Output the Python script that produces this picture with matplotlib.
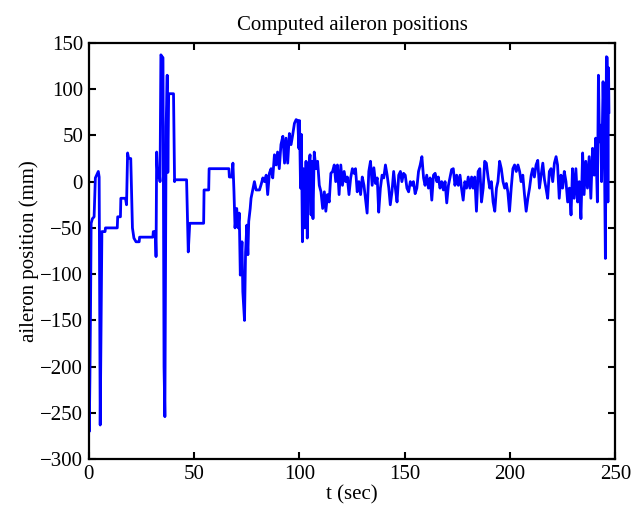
import matplotlib
matplotlib.use("Agg")
import matplotlib.pyplot as plt
import numpy as np

plt.rcParams['font.family'] = ['Liberation Serif', 'DejaVu Serif']

# time (sec) and aileron position (mm)
t = [0.0, 0.3, 0.6, 0.9, 1.2, 1.8, 2.6, 3.2, 3.8, 4.6, 5.0, 5.5, 6.3, 7.8, 8.0,
     13.6, 13.8, 15.1, 15.3, 17.5, 18.0, 18.5, 19.0, 20.0, 20.8, 21.5, 22.5,
     24.0, 24.2, 30.5, 30.7, 31.7, 32.0, 32.3, 32.8, 33.4, 33.9, 34.3, 34.9,
     35.3, 35.8, 36.2, 36.8, 37.3, 37.6, 38.0, 40.3, 40.8, 41.0, 46.5, 47.3,
     48.0, 54.6, 54.8, 57.0, 57.2, 66.6, 66.8, 68.0, 68.5, 69.0, 69.5, 70.3,
     71.0, 71.5, 72.0, 72.8, 73.2, 74.0, 74.5, 75.1, 75.6, 76.0, 76.7, 77.1,
     77.9, 78.7, 79.5, 81.1, 81.9, 82.7, 83.5, 84.3, 85.0, 85.8, 86.6, 87.4,
     88.2, 89.0, 89.7, 90.5, 91.3, 92.2, 93.0, 93.7, 94.5, 95.3, 96.1, 96.9,
     97.7, 98.5, 99.3, 99.8, 100.1, 100.6, 101.0, 101.5, 101.9, 102.6, 103.2,
     103.8, 104.4, 105.1, 105.6, 106.0, 106.5, 107.1, 107.9, 108.7, 109.5,
     110.3, 111.1, 111.9, 112.6, 113.4, 114.2, 115.0, 115.8, 116.6, 117.3,
     118.1, 118.9, 119.7, 120.5, 121.3, 122.1, 122.8, 123.6, 124.4, 125.2,
     126.0, 126.7, 127.5, 128.3, 129.1, 129.9, 130.7, 131.4, 132.2, 133.0,
     133.8, 134.6, 135.4, 136.2, 137.0, 137.7, 138.5, 139.3, 140.1, 140.9,
     141.7, 142.5, 143.2, 144.0, 144.8, 145.6, 146.4, 147.2, 148.0, 148.7,
     149.5, 150.3, 151.1, 151.9, 152.7, 153.5, 154.2, 155.0, 155.8, 156.6,
     157.4, 158.2, 159.0, 159.7, 160.5, 161.3, 162.1, 162.9, 163.7, 164.5,
     165.3, 166.0, 166.8, 167.6, 168.4, 169.2, 170.0, 170.8, 171.5, 172.3,
     173.1, 173.9, 174.7, 175.5, 176.3, 177.0, 177.8, 178.6, 179.4, 180.2,
     181.0, 181.8, 182.5, 183.3, 184.1, 184.9, 185.7, 186.5, 187.3, 188.0,
     188.8, 189.6, 190.4, 191.2, 192.0, 192.8, 193.6, 194.3, 195.1, 195.9,
     196.7, 197.5, 198.3, 199.0, 199.8, 200.6, 201.4, 202.2, 203.0, 203.8,
     204.6, 205.3, 206.1, 206.9, 207.7, 208.5, 209.3, 210.1, 210.8, 211.6,
     212.4, 213.2, 214.0, 214.8, 215.6, 216.4, 217.1, 217.9, 218.7, 219.5,
     220.3, 221.1, 221.9, 222.6, 223.4, 224.2, 225.0, 225.8, 226.6, 227.4,
     228.2, 229.0, 229.7, 230.5, 231.3, 232.1, 232.9, 233.7, 234.5, 235.2,
     236.0, 236.8, 237.6, 238.4, 239.2, 240.0, 240.7, 241.5, 242.0, 242.5,
     243.1, 243.5, 244.2, 244.8, 245.3, 245.8, 246.2, 246.5, 246.8, 247.0]

pos = [-95, -270, -215, -140, -45, -40, -38, 4, 7, 11, 5, -263, -54, -54, -50,
       -50, -38, -38, -18, -18, -25, 31, 25, 25, -50, -61, -65,
       -65, -60, -60, -54, -54, -81, 32, 5, 14, 0, 137, 135,
       134, -200, -254, 60, 115, 10, 95, 95, 0, 2, 2, -76,
       -45, -45, -9, -9, 14, 14, 5, 5, 20, -11, -50, -29,
       -50, -34, -101, -65, -119, -150, -76, -47, -79, -43, -29, -18,
       -9, 0, -9, -9, -3, 4, 0, 7, -14, 9, 14, 4,
       29, 18, 32, 14, 40, 49, 20, 47, 20, 52, 40, 51,
       63, 67, 66, 36, 66, -7, 51, -65, 14, -50, 22,
       -61, 14, 29, -36, 22, -40, 32, 14, 22, -4,
       -11, -29, -11, -32, -14, -22, 9, 11, 18, 0,
       18, -14, 18, -4, 11, 0, 5, -14, 4, 14,
       9, 14, -11, 0, -14, 5, -4, -18, -34, 11,
       22, -4, 15, -2, 4, -33, -7, 7, 4, 18,
       7, -7, -25, -11, 11, -7, -22, 7, 11, 0,
       9, 7, -7, -11, 0, -4, 0, -13, -7, 11,
       18, 27, 4, -4, 7, -7, 4, -20, 7, 9,
       0, 5, -7, 0, -9, 0, -23, -4, 4, 13,
       14, -4, 7, -4, 7, -7, -20, 0, -7, 5,
       -7, 5, -7, 5, -32, 11, 14, -22, -7, 22,
       20, 5, -7, 0, -22, -32, -7, 0, 22, 14,
       0, -7, -2, -11, -32, -7, 14, 18, 11, 18,
       11, 0, 7, -14, -32, -18, -7, 7, 14, 5,
       18, 23, -7, 7, 20, 2, -7, -18, 11, 14,
       0, 20, 27, 18, -18, 7, -7, 11, 0, -22,
       -7, -36, 14, -18, 14, -22, 0, -40, 31, -14,
       22, -7, 27, -18, 36, 7, 47, -22, 115, 43,
       61, 0, 108, 43, -83, 135, 134, -22, 123, 75]

fig = plt.figure(figsize=(6.33, 5.16), dpi=100)
ax = fig.add_axes([0.14, 0.11, 0.832, 0.807])
ax.plot(t, pos, color=(0, 0, 1), linewidth=2.0)

ax.set_xlim(0, 250)
ax.set_ylim(-300, 150)
ax.set_xticks(np.arange(0, 251, 50))
ax.set_yticks(np.arange(-300, 151, 50))
ax.tick_params(direction='in', top=True, right=True, length=5, width=1.5,
               labelsize=15, pad=4)
for s in ax.spines.values():
    s.set_linewidth(1.6)

ax.set_title('Computed aileron positions', fontsize=15, pad=9)
ax.set_xlabel('t (sec)', fontsize=15, labelpad=1)
ax.set_ylabel('aileron position (mm)', fontsize=15, labelpad=1)

fig.savefig('out.png', dpi=100)
